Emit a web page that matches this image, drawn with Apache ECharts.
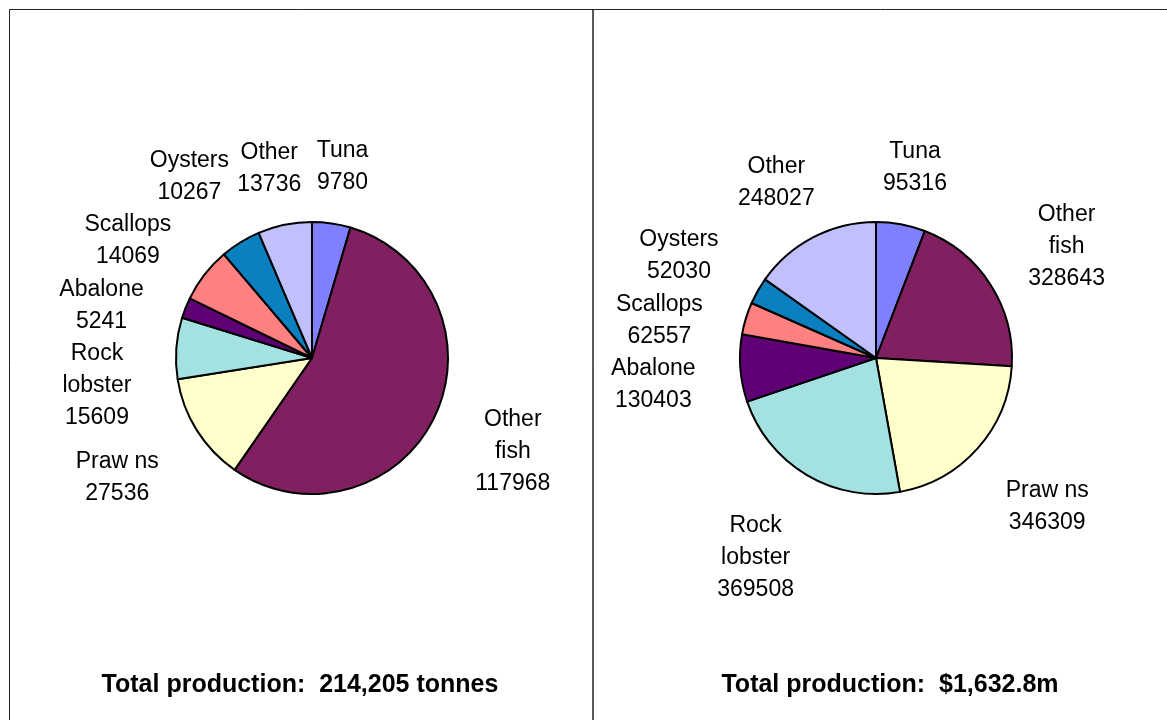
<!DOCTYPE html>
<html><head><meta charset="utf-8">
<script src="https://cdn.jsdelivr.net/npm/echarts@6/dist/echarts.min.js"></script>
<style>html,body{margin:0;padding:0;background:#fff}#c{width:1167px;height:720px}</style>
</head><body><div id="c"></div>
<script>
// ---- data ----
const categories = ['Tuna', 'Other\nfish', 'Praw ns', 'Rock\nlobster', 'Abalone', 'Scallops', 'Oysters', 'Other'];
const tonnes = [9780, 117968, 27536, 15609, 5241, 14069, 10267, 13736];
const valueThousand = [95316, 328643, 346309, 369508, 130403, 62557, 52030, 248027];
const titleLeft = 'Total production:  214,205 tonnes';
const titleRight = 'Total production:  $1,632.8m';

// ---- styles ----
const colors = ['#8080FF', '#802060', '#FFFFCC', '#A4E1E1', '#600075', '#FF8080', '#0A80C0', '#C0C0FF'];
const FONT = '"Liberation Sans", Arial, sans-serif';
const LABEL_SIZE = 23;
const LINE_H = 32;
const R = 136;
const GAP_X = 45;
const GAP_Y_TOP = 25;
const GAP_Y_BOTTOM = 40;
const PAD_X = 8;

const mctx = document.createElement('canvas').getContext('2d');
mctx.font = LABEL_SIZE + 'px ' + FONT;
function labelBox(text) {
  const lines = text.split('\n');
  return { hw: Math.max(...lines.map(l => mctx.measureText(l).width)) / 2, hh: lines.length * LINE_H / 2 };
}

function computeLabelPositions(values, center) {
  const total = values.reduce((a, b) => a + b, 0);
  let acc = 0;
  const items = values.map((v, i) => {
    const th = (acc + v / 2) / total * 2 * Math.PI; acc += v;
    const ux = Math.sin(th), uy = -Math.cos(th);
    const b = labelBox(categories[i] + '\n' + v);
    const tx = Math.abs(ux) > 1e-6 ? b.hw / Math.abs(ux) : 1e9;
    const ty = Math.abs(uy) > 1e-6 ? b.hh / Math.abs(uy) : 1e9;
    const t = Math.min(tx, ty);
    const gy = uy > 0 ? GAP_Y_BOTTOM : GAP_Y_TOP;
    return {
      i, ux, uy, hw: b.hw, hh: b.hh,
      x: center[0] + ux * (R + GAP_X + t),
      y: center[1] + uy * (R + gy + t)
    };
  });
  const overlaps = (a, b) => Math.abs(a.x - b.x) < a.hw + b.hw + PAD_X && Math.abs(a.y - b.y) < a.hh + b.hh;
  [items.filter(o => o.ux < 0), items.filter(o => o.ux >= 0)].forEach(side => {
    side.sort((a, b) => a.y - b.y);
    const placed = [];
    side.forEach(it => {
      for (let k = 0; k < 30; k++) {
        const p = placed.find(q => overlaps(it, q));
        if (!p) break;
        const s = Math.sign(it.ux) || 1;
        let dA = Infinity;
        if ((it.x - p.x) * s >= 0) dA = (it.hw + p.hw + PAD_X - Math.abs(it.x - p.x)) / Math.abs(it.ux);
        const dB = (p.y + p.hh) - (it.y - it.hh);
        if (dA < dB) { it.x += it.ux * (dA + 0.5); it.y += it.uy * (dA + 0.5); }
        else { it.y += dB + 0.5; }
      }
      placed.push(it);
    });
  });
  const pos = [];
  items.forEach(it => { pos[it.i] = [it.x, it.y]; });
  return pos;
}

function pieSeries(values, center) {
  const pos = computeLabelPositions(values, center);
  return {
    type: 'pie', center: center, radius: R, startAngle: 90, clockwise: true,
    avoidLabelOverlap: false, animation: false,
    data: values.map((v, i) => ({ name: categories[i], value: v })),
    label: {
      show: true, position: 'outside',
      formatter: p => p.name + '\n' + p.value,
      fontSize: LABEL_SIZE, lineHeight: LINE_H, color: '#000', fontFamily: FONT
    },
    labelLine: { show: false },
    itemStyle: { borderColor: '#000', borderWidth: 2 },
    emphasis: { disabled: true },
    labelLayout: p => ({ x: pos[p.dataIndex][0], y: pos[p.dataIndex][1], align: 'center', verticalAlign: 'middle' })
  };
}

const chart = echarts.init(document.getElementById('c'), null, { renderer: 'canvas' });
chart.setOption({
  backgroundColor: '#fff',
  color: colors,
  animation: false,
  series: [
    pieSeries(tonnes, [312, 358]),
    pieSeries(valueThousand, [876, 358])
  ],
  graphic: [
    { type: 'rect', shape: { x: 9.5, y: 9.5, width: 583.5, height: 740 }, style: { fill: null, stroke: '#222', lineWidth: 1 }, silent: true },
    { type: 'rect', shape: { x: 593, y: 9.5, width: 600, height: 740 }, style: { fill: null, stroke: '#222', lineWidth: 1 }, silent: true },
    { type: 'text', x: 300, y: 685, style: { text: titleLeft, align: 'center', verticalAlign: 'middle', fill: '#000', font: 'bold 25px ' + FONT } },
    { type: 'text', x: 890, y: 685, style: { text: titleRight, align: 'center', verticalAlign: 'middle', fill: '#000', font: 'bold 25px ' + FONT } }
  ]
});
</script>
</body></html>
